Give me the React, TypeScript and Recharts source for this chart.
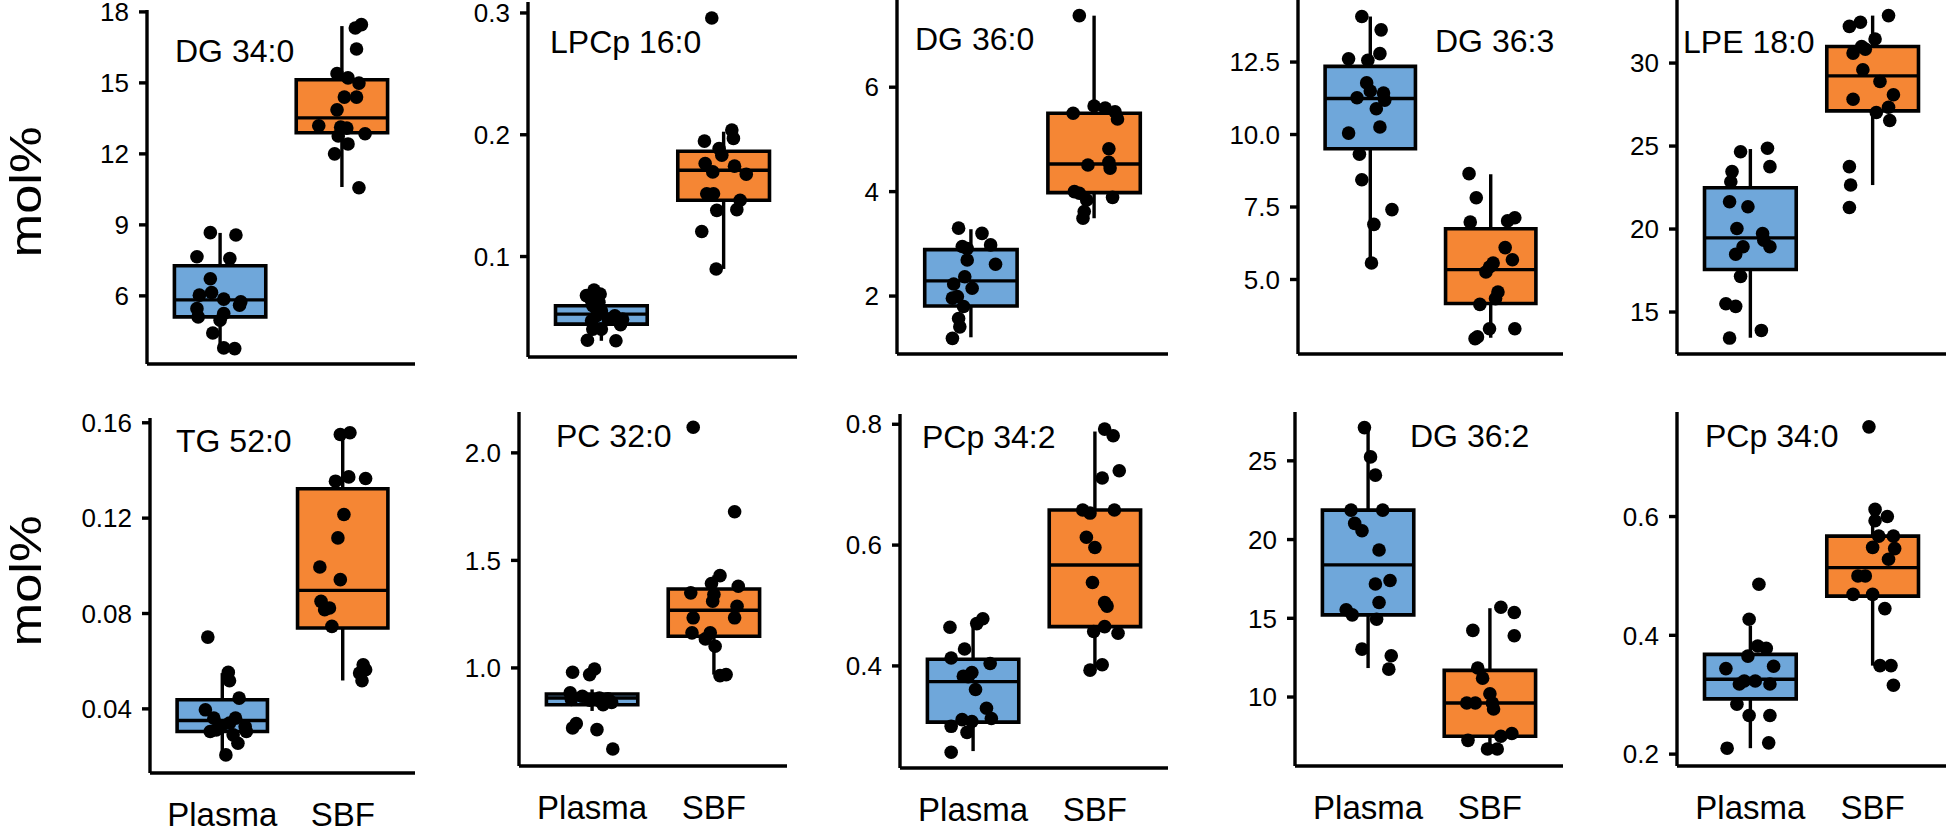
import React from "react";
import { ScatterChart, Scatter, XAxis, YAxis, ReferenceArea, ReferenceLine } from "recharts";

const GROUPS = ["Plasma", "SBF"];
const LIPIDS = ["DG 34:0", "LPCp 16:0", "DG 36:0", "DG 36:3", "LPE 18:0", "TG 52:0", "PC 32:0", "PCp 34:2", "DG 36:2", "PCp 34:0"];

// samples: [jittered x (1 = Plasma, 2 = SBF), mol%]
const dg340Plasma = [[0.92,8.67],[1.13,8.57],[0.81,7.65],[1.08,7.58],[0.92,6.72],[0.83,6.03],[0.93,6.14],[1.03,5.86],[1.17,5.75],[1.16,5.6],[0.81,5.46],[0.82,5.11],[1.03,5.25],[1.0,4.97],[0.94,4.43],[1.03,3.8],[1.12,3.77]];
const dg340Sbf = [[2.11,17.32],[2.16,17.46],[2.12,16.43],[1.96,15.39],[2.05,15.21],[2.14,14.99],[2.02,14.4],[2.12,14.4],[1.96,13.86],[1.81,13.19],[1.99,13.13],[2.04,13.09],[2.19,12.85],[1.97,12.76],[2.05,12.42],[1.94,12.0],[2.14,10.57]];
const lpcp160Plasma = [[0.886,0.0313],[1.119,0.0308],[0.93,0.0404],[1.157,0.044],[1.173,0.0486],[1.11,0.0514],[1.0,0.0555],[0.93,0.0596],[0.92,0.0637],[0.878,0.0679],[0.94,0.0725],[0.99,0.0692],[0.98,0.0624],[0.96,0.0514],[1.056,0.0486],[1.0,0.0404],[0.92,0.0473]];
const lpcp160Sbf = [[1.903,0.2959],[2.067,0.2038],[2.08,0.197],[1.843,0.1948],[1.963,0.1887],[1.849,0.1764],[2.089,0.1742],[1.911,0.1695],[2.185,0.1676],[1.862,0.1516],[1.917,0.1516],[2.135,0.1462],[2.108,0.1385],[1.944,0.1379],[1.821,0.1206],[1.939,0.0898],[1.985,0.1832]];
const dg360Plasma = [[0.9,3.3],[1.09,3.2],[1.16,2.98],[0.93,2.95],[0.97,2.69],[1.2,2.61],[0.95,2.37],[0.86,2.23],[1.01,2.15],[0.85,1.96],[0.89,1.99],[0.94,1.8],[0.9,1.57],[0.91,1.41],[0.85,1.19],[0.97,2.91]];
const dg360Sbf = [[1.88,7.37],[2.0,5.64],[2.09,5.6],[2.17,5.53],[1.83,5.5],[2.19,5.39],[2.12,4.82],[1.95,4.51],[2.12,4.56],[2.13,4.45],[1.84,4.0],[1.88,3.97],[1.94,3.84],[2.15,3.89],[1.92,3.62],[1.91,3.49]];
const dg363Plasma = [[0.93,14.07],[1.09,13.61],[1.08,12.79],[0.82,12.61],[0.98,12.56],[0.97,11.78],[1.0,11.5],[1.11,11.43],[0.89,11.27],[1.12,11.18],[1.05,10.89],[1.08,10.26],[0.82,10.05],[0.91,9.32],[0.93,8.44],[1.18,7.41],[1.03,6.9],[1.01,5.57]];
const dg363Sbf = [[1.82,8.65],[1.88,7.82],[1.83,6.98],[2.14,7.02],[2.2,7.13],[2.12,6.1],[2.18,5.68],[2.02,5.57],[1.99,5.43],[1.96,5.26],[2.06,4.57],[2.04,4.34],[1.91,4.14],[1.99,3.3],[2.2,3.3],[1.89,3.02],[1.87,2.96]];
const lpe180Plasma = [[0.92,24.66],[1.14,24.87],[1.16,23.76],[0.85,23.46],[0.84,22.85],[0.83,21.64],[0.98,21.34],[0.89,20.03],[1.1,19.73],[1.11,19.33],[1.16,18.93],[0.94,18.93],[0.88,18.48],[0.92,17.15],[0.8,15.5],[0.88,15.34],[1.09,13.89],[0.83,13.43]];
const lpe180Sbf = [[2.13,32.86],[1.9,32.46],[1.81,32.21],[2.02,31.45],[1.91,31.0],[1.94,30.84],[1.84,30.6],[1.92,29.6],[2.06,28.89],[2.17,28.09],[1.84,27.82],[2.13,27.34],[2.03,27.02],[2.14,26.54],[1.81,23.76],[1.82,22.65],[1.81,21.3]];
const tg520Plasma = [[0.88,0.0701],[1.05,0.0553],[1.06,0.0518],[1.14,0.0445],[0.86,0.0396],[0.93,0.0361],[1.11,0.0361],[1.06,0.034],[1.19,0.0326],[0.99,0.0326],[0.9,0.0305],[1.2,0.0305],[1.13,0.0256],[1.03,0.0207],[0.95,0.0312],[1.09,0.0291]];
const tg520Sbf = [[1.98,0.1551],[2.06,0.1558],[1.94,0.1355],[2.05,0.1373],[2.19,0.1366],[2.01,0.1215],[1.96,0.1117],[1.81,0.0995],[1.98,0.0942],[1.82,0.0851],[1.89,0.0823],[1.85,0.0816],[1.91,0.0746],[2.17,0.0585],[2.19,0.0564],[2.14,0.055],[2.16,0.0518]];
const pc320Plasma = [[0.84,0.98],[0.98,0.969],[1.02,0.995],[0.82,0.884],[0.92,0.868],[1.06,0.86],[1.13,0.856],[1.16,0.84],[0.83,0.853],[0.98,0.85],[0.84,0.721],[0.87,0.741],[1.04,0.713],[1.17,0.623],[1.09,0.829],[1.06,0.848]];
const pc320Sbf = [[1.83,2.119],[2.17,1.726],[2.05,1.429],[1.98,1.392],[2.2,1.38],[1.81,1.349],[2.0,1.341],[1.99,1.31],[2.19,1.287],[1.83,1.233],[2.17,1.233],[1.82,1.163],[1.93,1.135],[2.01,1.101],[2.05,0.964],[2.1,0.969],[1.97,1.163]];
const pcp342Plasma = [[1.08,0.478],[1.03,0.47],[0.81,0.464],[0.93,0.428],[0.82,0.413],[1.14,0.404],[0.99,0.389],[0.92,0.383],[1.02,0.361],[1.11,0.33],[1.15,0.313],[0.91,0.311],[0.99,0.308],[0.82,0.3],[0.95,0.29],[0.82,0.257],[0.96,0.382]];
const pcp342Sbf = [[2.08,0.792],[2.15,0.781],[2.2,0.723],[2.06,0.711],[1.9,0.658],[1.96,0.653],[2.16,0.658],[1.93,0.613],[2.0,0.596],[1.98,0.538],[2.08,0.505],[2.1,0.499],[1.99,0.457],[2.08,0.465],[2.19,0.454],[1.96,0.393],[2.06,0.402]];
const dg362Plasma = [[0.97,27.11],[1.02,25.25],[1.06,24.09],[0.86,21.87],[1.12,21.87],[0.89,21.03],[0.95,20.56],[1.09,19.34],[1.18,17.4],[1.06,17.18],[1.09,16.0],[0.82,15.54],[0.87,15.22],[1.07,14.94],[0.95,13.04],[1.19,12.62],[1.17,11.77]];
const dg362Sbf = [[2.09,15.7],[2.2,15.37],[1.86,14.23],[2.2,13.89],[1.9,11.84],[1.94,11.2],[2.0,10.21],[1.81,9.62],[1.88,9.62],[2.03,9.24],[2.02,9.62],[2.09,7.51],[2.18,7.68],[1.82,7.25],[1.98,6.7],[2.06,6.7]];
const pcp340Plasma = [[1.07,0.486],[0.99,0.427],[1.06,0.382],[1.13,0.378],[0.98,0.365],[0.8,0.344],[1.19,0.348],[0.95,0.323],[1.04,0.323],[0.91,0.318],[1.16,0.318],[0.89,0.284],[0.99,0.265],[1.16,0.265],[0.81,0.21],[1.15,0.219]];
const pcp340Sbf = [[1.97,0.751],[2.02,0.612],[2.12,0.6],[2.02,0.593],[2.05,0.567],[2.17,0.567],[2.0,0.548],[2.18,0.546],[2.13,0.528],[1.88,0.5],[1.94,0.5],[1.84,0.469],[2.0,0.469],[2.1,0.445],[2.06,0.349],[2.15,0.349],[2.17,0.316]];

// box stats per group: [whisker low, Q1, median, Q3, whisker high]
const BOXES = [
  [[3.72, 5.11, 5.83, 7.27, 8.66], [10.6, 12.89, 13.52, 15.13, 17.4]],
  [[0.0308, 0.0445, 0.0527, 0.0596, 0.0725], [0.0898, 0.1462, 0.1709, 0.1865, 0.2025]],
  [[1.21, 1.81, 2.29, 2.89, 3.28], [3.49, 3.98, 4.53, 5.5, 7.37]],
  [[5.6, 9.51, 11.24, 12.35, 14.07], [2.99, 4.17, 5.34, 6.75, 8.63]],
  [[13.45, 17.56, 19.47, 22.49, 24.82], [22.65, 27.12, 29.23, 31.0, 32.86]],
  [[0.0207, 0.0305, 0.0351, 0.0438, 0.055], [0.0519, 0.0739, 0.0897, 0.1323, 0.1551]],
  [[0.8, 0.829, 0.86, 0.879, 0.9], [0.969, 1.147, 1.268, 1.367, 1.43]],
  [[0.259, 0.307, 0.374, 0.411, 0.477], [0.393, 0.465, 0.567, 0.658, 0.788]],
  [[11.84, 15.22, 18.39, 21.87, 27.11], [6.66, 7.51, 9.62, 11.69, 15.64]],
  [[0.21, 0.293, 0.326, 0.368, 0.416], [0.349, 0.466, 0.514, 0.567, 0.612]],
];

const SAMPLES = [
  [dg340Plasma, dg340Sbf], [lpcp160Plasma, lpcp160Sbf], [dg360Plasma, dg360Sbf], [dg363Plasma, dg363Sbf], [lpe180Plasma, lpe180Sbf],
  [tg520Plasma, tg520Sbf], [pc320Plasma, pc320Sbf], [pcp342Plasma, pcp342Sbf], [dg362Plasma, dg362Sbf], [pcp340Plasma, pcp340Sbf],
];

const Y_TICKS = [
  [6, 9, 12, 15, 18], [0.1, 0.2, 0.3], [2, 4, 6], [2.5, 5, 7.5, 10, 12.5], [15, 20, 25, 30],
  [0.04, 0.08, 0.12, 0.16], [1, 1.5, 2], [0.4, 0.6, 0.8], [10, 15, 20, 25], [0.2, 0.4, 0.6],
];
const Y_DECIMALS = [0, 1, 0, 1, 0, 2, 1, 1, 0, 1];
const Y_DOMAINS = [
  [3.12, 18.08], [0.0175, 0.309], [0.89, 7.67], [2.43, 14.64], [12.47, 33.8],
  [0.0131, 0.162], [0.544, 2.19], [0.231, 0.817], [5.62, 28.1], [0.18, 0.776],
];

// plot-area rectangles on the page: left, right, top, bottom
const PLOT_BOXES = [
  [147, 415, 10, 364], [528, 797, 2, 357], [897, 1168, 0, 354], [1298, 1563, 0, 354], [1677, 1946, 0, 354],
  [150, 415, 418, 773], [519, 787, 412, 766], [900, 1168, 414, 768], [1295, 1563, 412, 766], [1677, 1946, 412, 766],
];
// panel title: left x, baseline y
const TITLE_POS = [
  [175, 62], [550, 53], [915, 50], [1435, 52], [1683, 53],
  [176, 452], [556, 447], [922, 448], [1410, 447], [1705, 447],
];

const FILLS = ["#6FA7DA", "#F58634"];
const FONT = "'Liberation Sans', Arial, Helvetica, sans-serif";
const HALF = 0.375;
const LW = 3.4;

const dot = (props: any) => <circle cx={props.cx} cy={props.cy} r={6.8} fill="#000" />;

function Panel({ i }: { i: number }) {
  const [l, r, t, b] = PLOT_BOXES[i];
  const bottomRow = i >= 5;
  const yw = 100;
  const mt = 20;
  const xh = bottomRow ? 70 : 10;
  const width = r - l + yw;
  const height = b - t + mt + xh;
  const dec = Y_DECIMALS[i];
  const ax = { stroke: "#000", strokeWidth: LW };

  return (
    <div style={{ position: "absolute", left: l - yw, top: t - mt, width, height }}>
      <ScatterChart width={width} height={height} margin={{ top: mt, right: 0, bottom: 0, left: 0 }}>
        <XAxis
          type="number"
          dataKey="x"
          domain={[0.4, 2.6]}
          ticks={[1, 2]}
          allowDataOverflow
          height={xh}
          axisLine={ax}
          tickLine={false}
          tickSize={8}
          tickMargin={22}
          tick={bottomRow ? { fontSize: 33, fill: "#000", fontFamily: FONT } : false}
          tickFormatter={(v: number) => GROUPS[v - 1]}
        />
        <YAxis
          type="number"
          dataKey="y"
          width={yw}
          domain={Y_DOMAINS[i]}
          ticks={Y_TICKS[i]}
          allowDataOverflow
          axisLine={ax}
          tickLine={ax}
          tickSize={8}
          tickMargin={10}
          tick={{ fontSize: 26, fill: "#000", fontFamily: FONT }}
          tickFormatter={(v: number) => v.toFixed(dec)}
        />
        {BOXES[i].map((s, g) => {
          const c = g + 1;
          return (
            <React.Fragment key={g}>
              <ReferenceLine segment={[{ x: c, y: s[0] }, { x: c, y: s[1] }]} stroke="#000" strokeWidth={LW} />
              <ReferenceLine segment={[{ x: c, y: s[3] }, { x: c, y: s[4] }]} stroke="#000" strokeWidth={LW} />
              <ReferenceArea x1={c - HALF} x2={c + HALF} y1={s[1]} y2={s[3]} fill={FILLS[g]} fillOpacity={1} stroke="#000" strokeWidth={3.6} />
              <ReferenceLine segment={[{ x: c - HALF, y: s[2] }, { x: c + HALF, y: s[2] }]} stroke="#000" strokeWidth={LW} />
            </React.Fragment>
          );
        })}
        {SAMPLES[i].map((pts, g) => (
          <Scatter
            key={GROUPS[g]}
            name={GROUPS[g]}
            data={pts.map(([x, y]) => ({ x, y }))}
            shape={dot}
            isAnimationActive={false}
          />
        ))}
      </ScatterChart>
    </div>
  );
}

export default function App() {
  return (
    <div style={{ position: "absolute", left: 0, top: 0, width: 1946, height: 827, overflow: "hidden", background: "#fff", fontFamily: FONT }}>
      {LIPIDS.map((_, i) => (
        <Panel key={i} i={i} />
      ))}
      <svg width={1946} height={827} style={{ position: "absolute", left: 0, top: 0, pointerEvents: "none" }}>
        {LIPIDS.map((name, i) => (
          <text key={name} x={TITLE_POS[i][0]} y={TITLE_POS[i][1]} fontSize={32} fontFamily={FONT} fill="#000">
            {name}
          </text>
        ))}
        {[192, 581].map((cy) => (
          <text
            key={cy}
            transform={`translate(41, ${cy}) rotate(-90)`}
            textAnchor="middle"
            fontSize={44}
            textLength={131}
            lengthAdjust="spacingAndGlyphs"
            fontFamily={FONT}
            fill="#000"
          >
            mol%
          </text>
        ))}
      </svg>
    </div>
  );
}
